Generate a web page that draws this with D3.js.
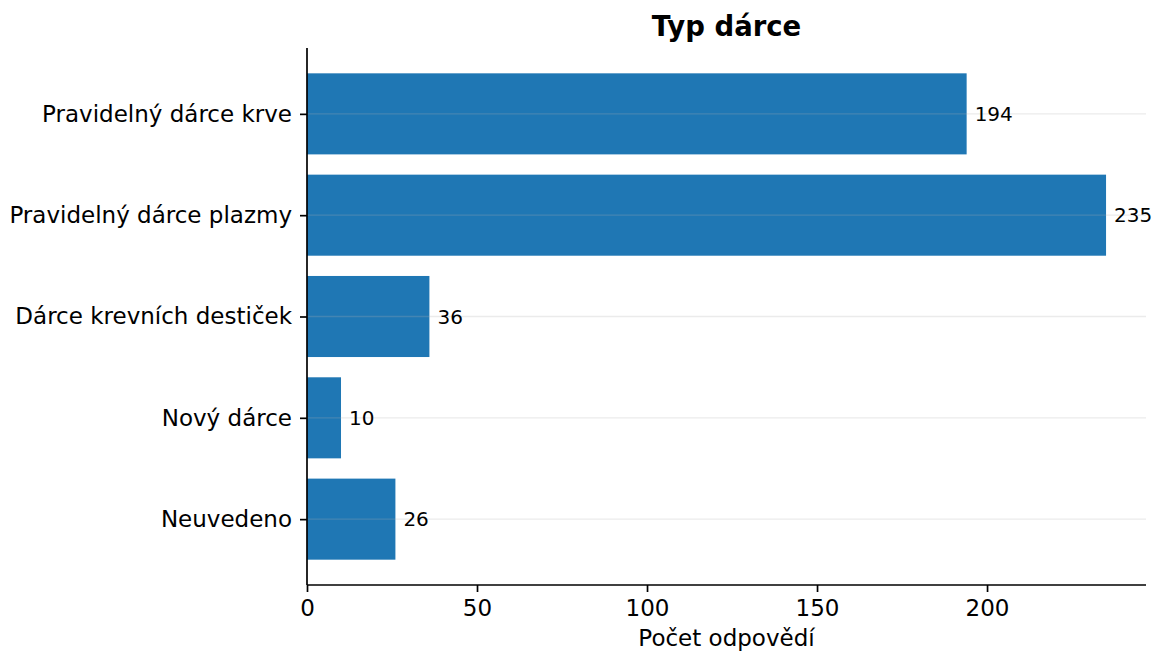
<!DOCTYPE html>
<html>
<head>
<meta charset="utf-8">
<script src="https://cdn.jsdelivr.net/npm/d3@7"></script>
<style>
  html, body { margin: 0; padding: 0; background: #fff; }
  svg { display: block; font-family: "DejaVu Sans", sans-serif; }
</style>
</head>
<body>
<svg id="chart" width="1154" height="654"></svg>
<script>
const categories = ["Pravidelný dárce krve", "Pravidelný dárce plazmy", "Dárce krevních destiček", "Nový dárce", "Neuvedeno"];
const values = [194, 235, 36, 10, 26];
const xTicks = [0, 50, 100, 150, 200];
const chartTitle = "Typ dárce";
const xLabel = "Počet odpovědí";

const svg = d3.select("#chart");
const mLeft = 307, mRight = 1146, mTop = 48, mBottom = 585;

const x = d3.scaleLinear().domain([0, d3.max(values) * 1.05]).range([mLeft, mRight]);
const yIdx = d3.scaleLinear().domain([-0.65, categories.length - 1 + 0.65]).range([mTop, mBottom]);
const barH = yIdx(0.4) - yIdx(0);

// bars
svg.append("g").selectAll("rect").data(values).join("rect")
  .attr("x", x(0))
  .attr("y", (d, i) => yIdx(i - 0.4))
  .attr("width", d => x(d) - x(0))
  .attr("height", barH * 2)
  .attr("fill", "#1f77b4");

// grid (on top of bars)
svg.append("g").selectAll("line").data(categories).join("line")
  .attr("x1", mLeft).attr("x2", mRight)
  .attr("y1", (d, i) => yIdx(i)).attr("y2", (d, i) => yIdx(i))
  .attr("stroke", "#b0b0b0").attr("stroke-opacity", 0.25).attr("stroke-width", 1.3);

// value labels
svg.append("g").selectAll("text").data(values).join("text")
  .attr("x", d => x(d) + 8)
  .attr("y", (d, i) => yIdx(i))
  .attr("dy", "0.35em")
  .attr("font-size", 20)
  .attr("font-family", "DejaVu Sans")
  .attr("fill", "#000")
  .text(d => d);

// x axis
const xAxis = d3.axisBottom(x).tickValues(xTicks).tickSize(7).tickPadding(8).tickFormat(d3.format("d"));
const gx = svg.append("g").attr("transform", `translate(0,${mBottom})`).call(xAxis);
gx.attr("font-size", 23).attr("font-family", "DejaVu Sans");
gx.select(".domain").attr("stroke-width", 1.7).attr("d", `M${mLeft},0H${mRight}`);
gx.selectAll(".tick line").attr("stroke-width", 1.7);
gx.selectAll(".tick text").attr("fill", "#000");

// y axis
const yAxis = d3.axisLeft(d3.scalePoint().domain(categories).range([yIdx(0), yIdx(categories.length - 1)]))
  .tickSize(7).tickPadding(8);
const gy = svg.append("g").attr("transform", `translate(${mLeft},0)`).call(yAxis);
gy.attr("font-size", 23).attr("font-family", "DejaVu Sans");
gy.select(".domain").attr("stroke-width", 1.7).attr("d", `M0,${mTop}V${mBottom}`);
gy.selectAll(".tick line").attr("stroke-width", 1.7);
gy.selectAll(".tick text").attr("fill", "#000");

// title
svg.append("text")
  .attr("x", (mLeft + mRight) / 2).attr("y", 36)
  .attr("text-anchor", "middle")
  .attr("font-size", 27.5).attr("font-weight", "bold")
  .attr("font-family", "DejaVu Sans")
  .text(chartTitle);

// x label
svg.append("text")
  .attr("x", (mLeft + mRight) / 2).attr("y", 646)
  .attr("text-anchor", "middle")
  .attr("font-size", 23)
  .attr("font-family", "DejaVu Sans")
  .text(xLabel);
</script>
</body>
</html>
